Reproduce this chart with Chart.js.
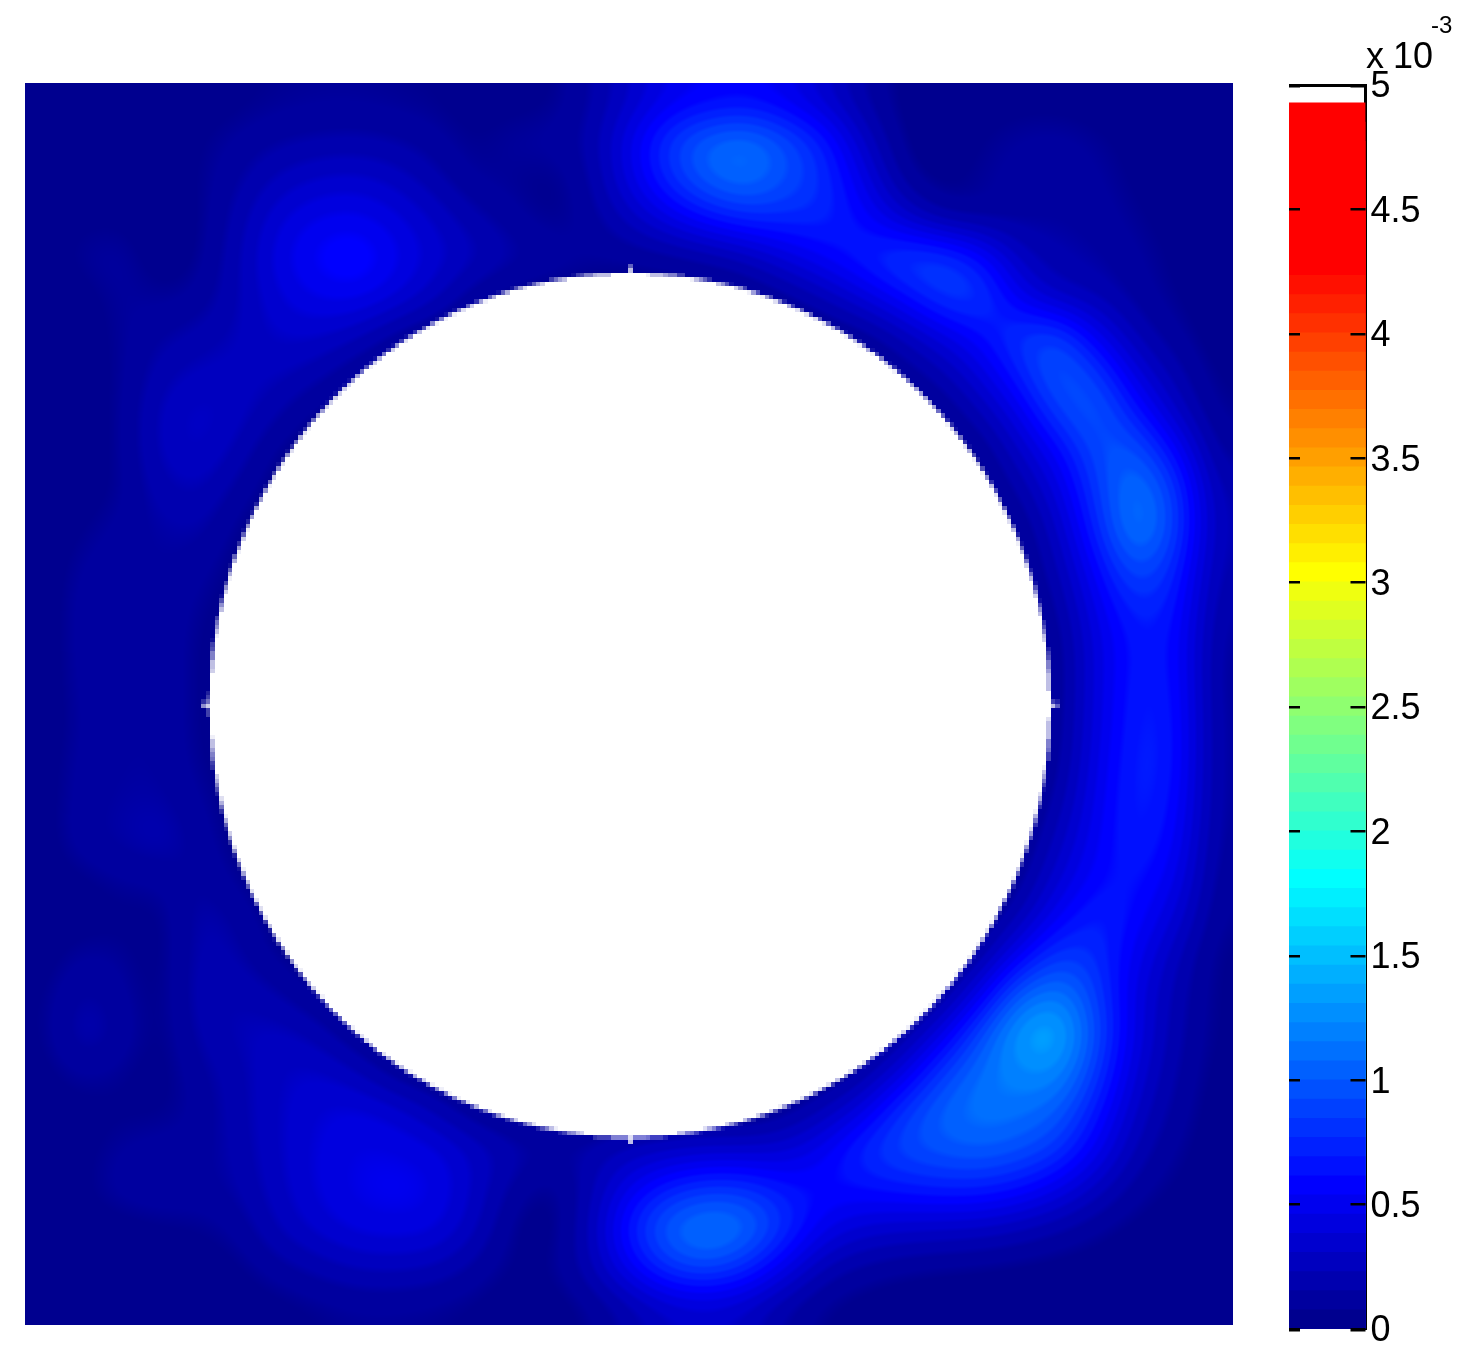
<!DOCTYPE html>
<html>
<head>
<meta charset="utf-8">
<style>
html,body{margin:0;padding:0;background:#fff;width:1475px;height:1367px;overflow:hidden}
canvas{position:absolute;top:0;display:block}
</style>
<script src="https://cdn.jsdelivr.net/npm/chart.js@4"></script>
</head>
<body>
<canvas id="heat" width="1475" height="1367" style="left:0"></canvas>
<canvas id="bar" width="206" height="1367" style="left:1269px"></canvas>
<script>
const n = null;
// field values in units of 1e-3; null = inside the hole
const row00=[.02,.02,.02,.02,.03,.05,.07,.08,.08,.07,.06,.04,.04,.05,.14,.3,.48,.55,.58,.5,.34,.15,.04,.02,.03,.04,.04,.03,.02,.02,.02];
const row01=[.02,.02,.02,.02,.06,.1,.14,.16,.17,.15,.11,.05,.1,.11,.16,.46,.82,1.06,1.14,.95,.7,.3,.05,.02,.06,.1,.11,.08,.04,.02,.02];
const row02=[.03,.03,.03,.03,.06,.14,.25,.32,.34,.28,.18,.08,.07,.04,.13,.42,.76,1.02,1.12,.95,.78,.46,.1,.03,.08,.11,.13,.1,.05,.03,.02];
const row03=[.03,.05,.05,.02,.05,.19,.38,.48,.5,.42,.3,.18,.11,.05,.1,.25,.44,.62,.74,.75,.74,.6,.35,.12,.09,.12,.14,.12,.07,.04,.02];
const row04=[.03,.09,.11,.01,.06,.22,.44,.58,.66,.5,.36,.26,.18,.13,.09,.08,.09,.13,.22,.4,.56,.72,.88,.88,.64,.26,.17,.15,.1,.05,.02];
const row05=[.02,.03,.1,.07,.1,.22,.38,.48,.5,.4,.26,.09,n,n,n,n,n,n,n,.09,.22,.4,.6,.84,.88,.48,.25,.2,.12,.06,.03];
const row06=[.02,.03,.08,.14,.18,.24,.32,.32,.24,.1,n,n,n,n,n,n,n,n,n,n,n,.07,.22,.42,.6,.84,.9,.48,.2,.1,.03];
const row07=[.02,.03,.07,.2,.26,.27,.25,.18,.07,n,n,n,n,n,n,n,n,n,n,n,n,n,.07,.18,.4,.7,1.04,.86,.4,.18,.05];
const row08=[.02,.03,.07,.26,.34,.27,.16,.05,n,n,n,n,n,n,n,n,n,n,n,n,n,n,n,.05,.2,.46,.86,1.04,.68,.3,.07];
const row09=[.02,.03,.07,.26,.32,.2,.05,n,n,n,n,n,n,n,n,n,n,n,n,n,n,n,n,n,.05,.28,.56,.94,1.0,.6,.12];
const row10=[.02,.03,.07,.2,.24,.11,n,n,n,n,n,n,n,n,n,n,n,n,n,n,n,n,n,n,n,.14,.4,.84,1.18,.86,.2];
const row11=[.02,.06,.11,.15,.17,.05,n,n,n,n,n,n,n,n,n,n,n,n,n,n,n,n,n,n,n,.05,.28,.74,1.22,.9,.22];
const row12=[.02,.1,.13,.14,.11,n,n,n,n,n,n,n,n,n,n,n,n,n,n,n,n,n,n,n,n,n,.2,.58,.98,.76,.2];
const row13=[.02,.12,.14,.14,.07,n,n,n,n,n,n,n,n,n,n,n,n,n,n,n,n,n,n,n,n,n,.12,.48,.76,.68,.16];
const row14=[.02,.12,.14,.14,.05,n,n,n,n,n,n,n,n,n,n,n,n,n,n,n,n,n,n,n,n,n,.07,.42,.68,.64,.13];
const row15=[.02,.11,.14,.14,.05,n,n,n,n,n,n,n,n,n,n,n,n,n,n,n,n,n,n,n,n,n,.06,.42,.7,.66,.12];
const row16=[.02,.1,.14,.14,.05,n,n,n,n,n,n,n,n,n,n,n,n,n,n,n,n,n,n,n,n,n,.07,.43,.72,.68,.13];
const row17=[.03,.11,.14,.14,.06,n,n,n,n,n,n,n,n,n,n,n,n,n,n,n,n,n,n,n,n,n,.09,.46,.74,.68,.13];
const row18=[.03,.12,.15,.16,.09,n,n,n,n,n,n,n,n,n,n,n,n,n,n,n,n,n,n,n,n,n,.15,.5,.74,.64,.13];
const row19=[.03,.13,.16,.2,.12,n,n,n,n,n,n,n,n,n,n,n,n,n,n,n,n,n,n,n,n,n,.25,.54,.72,.58,.12];
const row20=[.03,.05,.09,.1,.15,.06,n,n,n,n,n,n,n,n,n,n,n,n,n,n,n,n,n,n,n,.08,.36,.6,.66,.5,.1];
const row21=[.03,.03,.05,.04,.19,.13,n,n,n,n,n,n,n,n,n,n,n,n,n,n,n,n,n,n,n,.2,.54,.74,.6,.38,.08];
const row22=[.03,.1,.08,.03,.2,.16,.06,n,n,n,n,n,n,n,n,n,n,n,n,n,n,n,n,n,.12,.52,.86,.78,.5,.25,.05];
const row23=[.05,.17,.1,.03,.21,.22,.16,.06,n,n,n,n,n,n,n,n,n,n,n,n,n,n,n,.08,.46,1.04,1.2,.86,.42,.2,.05];
const row24=[.05,.22,.12,.03,.18,.24,.27,.2,.06,n,n,n,n,n,n,n,n,n,n,n,n,n,.1,.42,.92,1.36,1.46,.92,.42,.18,.05];
const row25=[.04,.1,.07,.03,.13,.2,.3,.33,.24,.08,n,n,n,n,n,n,n,n,n,n,n,.12,.4,.84,1.12,1.22,1.26,.82,.36,.15,.04];
const row26=[.03,.04,.05,.05,.1,.2,.3,.38,.42,.36,.22,.08,n,n,n,n,n,n,n,.09,.22,.44,.82,1.06,1.14,1.12,1.02,.66,.28,.12,.03];
const row27=[.03,.04,.1,.12,.12,.18,.3,.4,.46,.46,.42,.3,.2,.15,.18,.24,.28,.32,.32,.36,.52,.78,.92,.98,1.02,.96,.82,.5,.2,.08,.03];
const row28=[.03,.05,.12,.14,.12,.16,.28,.4,.48,.5,.48,.3,.12,.04,.18,.48,.72,.84,.82,.66,.62,.62,.66,.7,.7,.62,.46,.26,.1,.05,.03];
const row29=[.03,.03,.03,.05,.06,.1,.24,.34,.42,.44,.42,.26,.05,.02,.22,.7,1.06,1.2,1.12,.8,.48,.36,.32,.3,.28,.22,.15,.08,.04,.03,.02];
const row30=[.02,.02,.02,.03,.03,.05,.12,.18,.24,.25,.22,.13,.05,.06,.2,.52,.84,.94,.78,.46,.2,.12,.08,.06,.05,.04,.03,.03,.02,.02,.02];
const row31=[.02,.02,.02,.02,.02,.03,.04,.06,.08,.08,.07,.05,.03,.03,.07,.18,.3,.34,.28,.14,.06,.03,.02,.02,.02,.02,.02,.02,.02,.02,.02];
const heatRows=[row00,row01,row02,row03,row04,row05,row06,row07,row08,row09,row10,row11,row12,row13,row14,row15,row16,row17,row18,row19,row20,row21,row22,row23,row24,row25,row26,row27,row28,row29,row30,row31];

const holeCenterX = 0.5004, holeCenterY = 0.5004, holeRadius = 0.348;
const colorbarTicks = ["0","0.5","1","1.5","2","2.5","3","3.5","4","4.5","5"];
const levelCount = 64, levelStep = 0.077, holeFill = 0.03, sourcePixel = 4.4;

function jet(i){ // i = 1..64, clipped at pure red at the top as in the reference
  const c=t=>Math.max(0,Math.min(1,t));
  const b = i<=8 ? (i+8)/16 : i<=24 ? 1 : c((40-i)/16);
  const g = i<=8 ? 0 : i<=24 ? (i-8)/16 : i<=40 ? 1 : c((56-i)/16);
  const r = i<=24 ? 0 : i<=40 ? (i-24)/16 : 1;
  return [Math.round(r*255),Math.round(g*255),Math.round(b*255)];
}
const ny=heatRows.length, nx=heatRows[0].length;
const cells=[];
heatRows.forEach((row,j)=>row.forEach((v,i)=>cells.push({x:(i+.5)/nx,y:(j+.5)/ny,v:v})));

function bs(a,b,c,d,t){const s=1-t;return (s*s*s*a+(3*t*t*t-6*t*t+4)*b+(-3*t*t*t+3*t*t+3*t+1)*c+t*t*t*d)/6;}
function sample(gx,gy){
  const at=(i,j)=>{const r=heatRows[Math.max(0,Math.min(ny-1,j))];const v=r[Math.max(0,Math.min(nx-1,i))];return v===null?holeFill:v;};
  const i=Math.floor(gx),j=Math.floor(gy),u=gx-i,w=gy-j,col=[];
  for(let k=-1;k<3;k++) col.push(bs(at(i-1,j+k),at(i,j+k),at(i+1,j+k),at(i+2,j+k),u));
  return bs(col[0],col[1],col[2],col[3],w);
}
function inHole(x,y){
  const dx=x-holeCenterX,dy=y-holeCenterY;
  if(dx*dx+dy*dy<holeRadius*holeRadius) return true;
  const tip=holeRadius*1.016, half=0.0016;
  return (Math.abs(dx)<half&&Math.abs(dy)<tip)||(Math.abs(dy)<half&&Math.abs(dx)<tip);
}
const heatPlugin={
  id:'heatPlugin',
  beforeDatasetsDraw(chart){
    const a=chart.chartArea,X=chart.scales.x,Y=chart.scales.y,ctx=chart.ctx;
    const L=Math.round(a.left),T=Math.round(a.top),W=Math.round(a.right)-L,H=Math.round(a.bottom)-T;
    const off=document.createElement('canvas');off.width=W;off.height=H;
    const oc=off.getContext('2d'),img=oc.createImageData(W,H),d=img.data;
    const palette=[];for(let i=1;i<=levelCount;i++)palette.push(jet(i));
    const bw=Math.ceil(W/sourcePixel)+1,bh=Math.ceil(H/sourcePixel)+1,cov=new Float32Array(bw*bh);
    for(let b=0;b<bh;b++)for(let c=0;c<bw;c++){
      let s=0;
      for(let q=0;q<4;q++)for(let r=0;r<4;r++){
        const px=L+(c+(r+.5)/4)*sourcePixel,py=T+(b+(q+.5)/4)*sourcePixel;
        if(inHole(X.getValueForPixel(px),Y.getValueForPixel(py)))s++;
      }
      cov[b*bw+c]=s/16;
    }
    for(let py=0;py<H;py++){
      const gy=Y.getValueForPixel(T+py+.5)*ny-.5;
      for(let px=0;px<W;px++){
        const gx=X.getValueForPixel(L+px+.5)*nx-.5;
        const v=Math.max(0,sample(gx,gy));
        const t=Math.max(0,Math.min(levelCount-1.001,v/levelStep-.5));
        const lv=Math.floor(t);
        // softened colour levels: faint contours stay visible, as in the reference
        const f=Math.max(0,Math.min(1,(t-lv-.5)*2.5+.5));
        const p=palette[lv],q=palette[lv+1];
        const al=cov[Math.floor(py/sourcePixel)*bw+Math.floor(px/sourcePixel)];
        const o=(py*W+px)*4;
        for(let k=0;k<3;k++){const col=p[k]+(q[k]-p[k])*f;d[o+k]=col+(255-col)*al;}
        d[o+3]=255;
      }
    }
    oc.putImageData(img,0,0);
    ctx.drawImage(off,L,T);
  }
};
new Chart(document.getElementById('heat'),{
  type:'scatter',
  data:{datasets:[{label:'field',data:cells,pointRadius:0,showLine:false}]},
  options:{
    responsive:false,animation:false,events:[],
    layout:{padding:{left:25,top:83,right:242,bottom:42}},
    plugins:{legend:{display:false},tooltip:{enabled:false}},
    scales:{
      x:{type:'linear',min:0,max:1,display:false},
      y:{type:'linear',min:0,max:1,reverse:true,display:false}
    }
  },
  plugins:[heatPlugin]
});

const barDatasets=[];
for(let i=1;i<=levelCount;i++){
  const c=jet(i);
  barDatasets.push({label:'level '+i,data:[[0,i*levelStep]],backgroundColor:`rgb(${c[0]},${c[1]},${c[2]})`,borderWidth:0,grouped:false,barPercentage:1,categoryPercentage:1});
}
const barFont='"Liberation Sans", Arial, sans-serif';
const barPlugin={
  id:'barPlugin',
  afterDatasetsDraw(chart){
    const ctx=chart.ctx,a=chart.chartArea,Y=chart.scales.y;
    ctx.save();ctx.fillStyle='#000';
    colorbarTicks.forEach(t=>{
      const v=parseFloat(t),py=Y.getPixelForValue(v),end=v===0||v===5,h=end?3.5:2.5;
      const top=v===0?py-1:v===5?py-1.5:py-h/2;
      ctx.fillRect(a.left,Math.round(top),11,h);
      ctx.fillRect(a.right-15,Math.round(top),15,h);
    });
    ctx.fillRect(a.left,Math.round(a.top-1.5),a.right-a.left+1.5,3);
    ctx.fillStyle='#000';ctx.textBaseline='alphabetic';ctx.textAlign='left';
    const ox=chart.canvas.offsetLeft;
    ctx.font='36px '+barFont;
    ctx.fillText('x',1366-ox,68);
    ctx.fillText('10',1393-ox,68);
    ctx.font='24px '+barFont;
    ctx.fillText('-3',1431-ox,33);
    ctx.restore();
  }
};
new Chart(document.getElementById('bar'),{
  type:'bar',
  data:{labels:[''],datasets:barDatasets},
  options:{
    responsive:false,animation:false,events:[],
    layout:{padding:{left:20,top:85,right:0,bottom:38}},
    plugins:{legend:{display:false},tooltip:{enabled:false}},
    scales:{
      x:{display:false,offset:true},
      y:{
        position:'right',min:0,max:5,
        afterFit(s){s.width=109.5;s.paddingTop=0;s.paddingBottom=0;},
        grid:{display:true,drawOnChartArea:false,drawTicks:false},
        border:{display:true,color:'#000',width:3},
        afterBuildTicks(s){s.ticks=colorbarTicks.map(t=>({value:parseFloat(t)}));},
        ticks:{
          padding:5,labelOffset:2.5,color:'#000',autoSkip:false,maxRotation:0,
          font:{family:barFont,size:36},
          callback:(v)=>String(v)
        }
      }
    }
  },
  plugins:[barPlugin]
});
</script>
</body>
</html>
